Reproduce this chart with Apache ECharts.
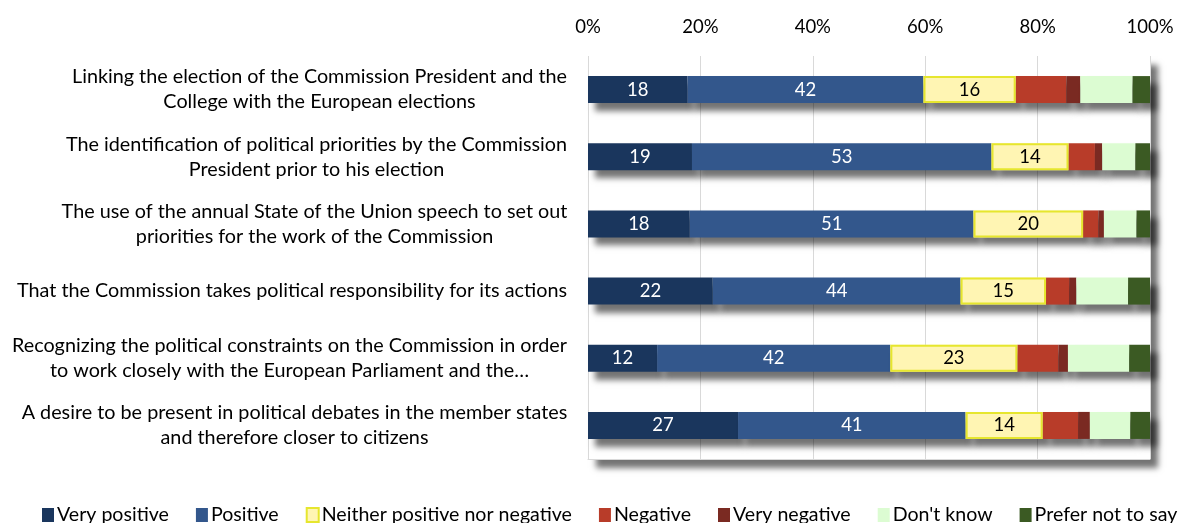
<!DOCTYPE html>
<html>
<head>
<meta charset="utf-8">
<script src="https://cdn.jsdelivr.net/npm/echarts@6/dist/echarts.min.js"></script>
<style>html,body{margin:0;padding:0;background:#fff}#c{width:1178px;height:523px}</style>
</head>
<body>
<div id="c"></div>
<script>
const categories = [
  "Linking the election of the Commission President and the\nCollege with the European elections",
  "The identification of political priorities by the Commission\nPresident prior to his election",
  "The use of the annual State of the Union speech to set out\npriorities for the work of the Commission",
  "That the Commission takes political responsibility for its actions",
  "Recognizing the political constraints on the Commission in order\nto work closely with the European Parliament and the\u2026",
  "A desire to be present in political debates in the member states\nand therefore closer to citizens"
];
const seriesNames = ["Very positive","Positive","Neither positive nor negative","Negative","Very negative","Don't know","Prefer not to say"];
const veryPositive = [17.7, 18.5, 18.1, 22.2, 12.3, 26.7];
const positive     = [42.0, 53.3, 50.5, 44.1, 41.5, 40.5];
const neither      = [16.4, 13.7, 19.5, 15.2, 22.6, 13.7];
const negative     = [9.0, 4.7, 2.7, 4.1, 7.3, 6.3];
const veryNegative = [2.5, 1.3, 1.0, 1.3, 1.7, 2.1];
const dontKnow     = [9.3, 5.9, 5.8, 9.2, 10.9, 7.2];
const preferNot    = [3.1, 2.6, 2.4, 3.9, 3.7, 3.5];
const xTicks = [0, 20, 40, 60, 80, 100];

const FONT = 'Lato, "Noto Sans", sans-serif';
const FS = 19.8;
const ctx = document.createElement('canvas').getContext('2d');
ctx.font = FS + 'px Lato';
const rich = {};
categories.forEach((c, i) => {
  const w = Math.max(...c.split('\n').map(l => ctx.measureText(l).width));
  rich['r' + i] = {width: Math.ceil(w) + 1, align: 'center', fontSize: FS, fontFamily: FONT, color: '#000', lineHeight: 25};
});

const colors = ['#1a365d', '#33578c', '#fff5b3', '#b83c29', '#7a2a22', '#dcfcd2', '#3b5a23'];
const dataArr = [veryPositive, positive, neither, negative, veryNegative, dontKnow, preferNot];

const series = seriesNames.map((name, i) => ({
  name, type: 'bar', stack: 'total', barWidth: 27, barGap: '-100%',
  data: dataArr[i],
  itemStyle: {
    color: colors[i],
    shadowColor: 'rgba(0,0,0,0.55)', shadowBlur: 6, shadowOffsetX: 7, shadowOffsetY: 8
  },
  label: {
    show: i < 3, position: 'inside',
    color: i === 2 ? '#000' : '#fff', fontSize: 18.5, fontFamily: FONT,
    formatter: p => Math.round(p.value)
  },
  emphasis: {disabled: true}
}));
// overlay: yellow outline on the "Neither" segment (no shadow)
series.push({
  name: '_offset', type: 'bar', stack: 'outline', barWidth: 27, barGap: '-100%',
  data: veryPositive.map((v, k) => v + positive[k]),
  itemStyle: {color: 'rgba(0,0,0,0)'}, silent: true, emphasis: {disabled: true}
});
series.push({
  name: '_outline', type: 'bar', stack: 'outline', barWidth: 27, barGap: '-100%',
  data: neither,
  itemStyle: {color: 'rgba(0,0,0,0)', borderColor: '#e6e62e', borderWidth: 2},
  silent: true, emphasis: {disabled: true}
});

const chart = echarts.init(document.getElementById('c'), null, {renderer: 'canvas'});
chart.setOption({
  animation: false,
  backgroundColor: '#fff',
  grid: {
    left: 588, right: 28, top: 56, bottom: 64, show: true,
    backgroundColor: '#fff', borderWidth: 0,
    shadowColor: 'rgba(0,0,0,0.55)', shadowBlur: 6, shadowOffsetX: 8, shadowOffsetY: 9
  },
  xAxis: [{
    type: 'value', position: 'top', min: 0, max: 100, interval: 20,
    axisLine: {show: false}, axisTick: {show: false},
    axisLabel: {formatter: v => xTicks.includes(v) ? v + '%' : '', fontSize: 18.5, fontFamily: FONT, color: '#000', margin: 19},
    splitLine: {show: true, lineStyle: {color: '#d9d9d9', width: 1}}
  }, {
    type: 'value', position: 'bottom', min: 0, max: 100,
    axisLine: {show: true, lineStyle: {color: '#d9d9d9'}}, axisTick: {show: false},
    axisLabel: {show: false}, splitLine: {show: false}
  }],
  yAxis: {
    type: 'category', data: categories, inverse: true,
    axisLine: {show: false}, axisTick: {show: false},
    axisLabel: {
      margin: 20, fontSize: FS, fontFamily: FONT, color: '#000',
      formatter: (v, i) => v.split('\n').map(l => '{r' + i + '|' + l + '}').join('\n'),
      rich
    }
  },
  legend: {
    bottom: -2, left: 42, width: 1136, itemWidth: 12, itemHeight: 14, itemGap: 27,
    icon: 'rect', padding: 0,
    textStyle: {fontSize: 19.6, fontFamily: FONT, color: '#000', padding: [0, 0, 0, -2]},
    data: seriesNames.map((n, i) => i === 2 ? {name: n, itemStyle: {borderColor: '#e6e62e', borderWidth: 2}} : n)
  },
  series
});
</script>
</body>
</html>
